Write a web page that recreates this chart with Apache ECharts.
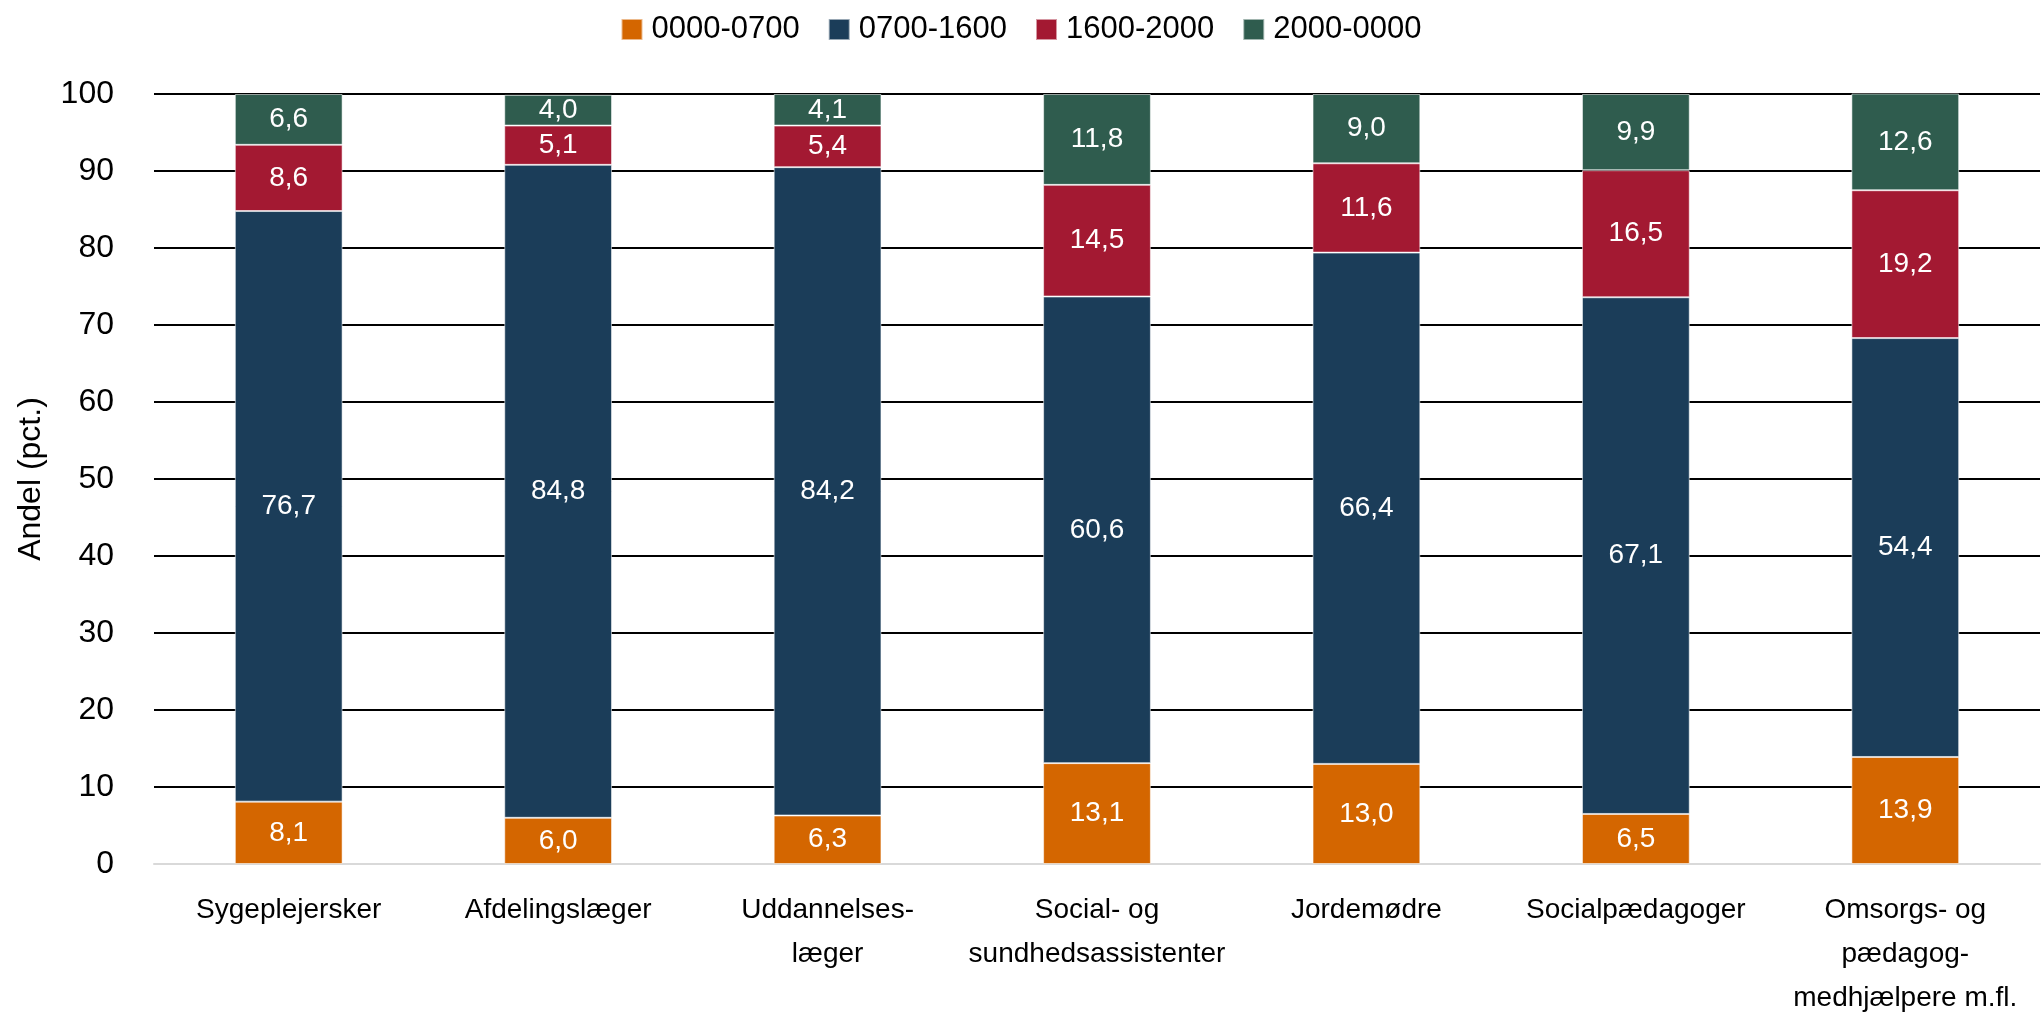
<!DOCTYPE html>
<html lang="da">

<head>
    <meta charset="UTF-8">
    <title>Andel fordelt på tidspunkt</title>
    <script src="https://cdnjs.cloudflare.com/ajax/libs/echarts/6.0.0/echarts.min.js"></script>
    <style>
        html, body { margin: 0; padding: 0; background: #fff; }
        #main { width: 2042px; height: 1013px; }
    </style>
</head>

<body>
    <div id="main"></div>

    <script>
        // data
        const categories = ['Sygeplejersker', 'Afdelingslæger', 'Uddannelses-\nlæger', 'Social- og\nsundhedsassistenter',
            'Jordemødre', 'Socialpædagoger', 'Omsorgs- og\npædagog-\nmedhjælpere m.fl.'];
        const seriesNames = ['0000-0700', '0700-1600', '1600-2000', '2000-0000'];
        const night = [8.1, 6.0, 6.3, 13.1, 13.0, 6.5, 13.9];
        const day = [76.7, 84.8, 84.2, 60.6, 66.4, 67.1, 54.4];
        const evening = [8.6, 5.1, 5.4, 14.5, 11.6, 16.5, 19.2];
        const late = [6.6, 4.0, 4.1, 11.8, 9.0, 9.9, 12.6];
        const yTicks = [0, 10, 20, 30, 40, 50, 60, 70, 80, 90, 100];

        const colors = ['#D46600', '#1B3D59', '#A31932', '#2F5C4E'];
        const font = "'Liberation Sans', Arial, sans-serif";

        const myChart = echarts.init(document.getElementById('main'));

        function makeSeries(name, data, color) {
            return {
                name: name,
                type: 'bar',
                stack: 'total',
                barWidth: '40%',
                data: data,
                itemStyle: { color: color, borderColor: 'rgba(255,255,255,0.55)', borderWidth: 1 },
                label: {
                    show: true,
                    position: 'inside',
                    color: '#fff',
                    fontFamily: font,
                    fontSize: 28,
                    formatter: (p) => p.value.toFixed(1).replace('.', ',')
                }
            };
        }

        const option = {
            animation: false,
            color: colors,
            legend: {
                top: 9,
                left: 'center',
                icon: 'rect',
                itemWidth: 21,
                itemHeight: 21,
                itemGap: 28,
                textStyle: { fontFamily: font, fontSize: 31, color: '#000', padding: [0, 0, 0, 4] },
                data: seriesNames
            },
            grid: { left: 154, right: 2, top: 94, bottom: 149, outerBoundsMode: 'none' },
            xAxis: {
                type: 'category',
                data: categories,
                axisTick: { show: false },
                axisLine: { lineStyle: { color: '#d9d9d9', width: 2 } },
                axisLabel: { color: '#000', fontFamily: font, fontSize: 28, lineHeight: 44, margin: 24, interval: 0 }
            },
            yAxis: {
                type: 'value',
                min: yTicks[0],
                max: yTicks[yTicks.length - 1],
                interval: 10,
                name: 'Andel (pct.)',
                nameLocation: 'middle',
                nameGap: 107,
                nameTextStyle: { color: '#000', fontFamily: font, fontSize: 32 },
                axisLine: { show: false },
                axisTick: { show: false },
                axisLabel: { color: '#000', fontFamily: font, fontSize: 32, margin: 40 },
                splitLine: { showMinLine: false, lineStyle: { color: '#000', width: 2 } }
            },
            series: [
                makeSeries(seriesNames[0], night, colors[0]),
                makeSeries(seriesNames[1], day, colors[1]),
                makeSeries(seriesNames[2], evening, colors[2]),
                makeSeries(seriesNames[3], late, colors[3])
            ]
        };

        myChart.setOption(option);
    </script>
</body>

</html>
